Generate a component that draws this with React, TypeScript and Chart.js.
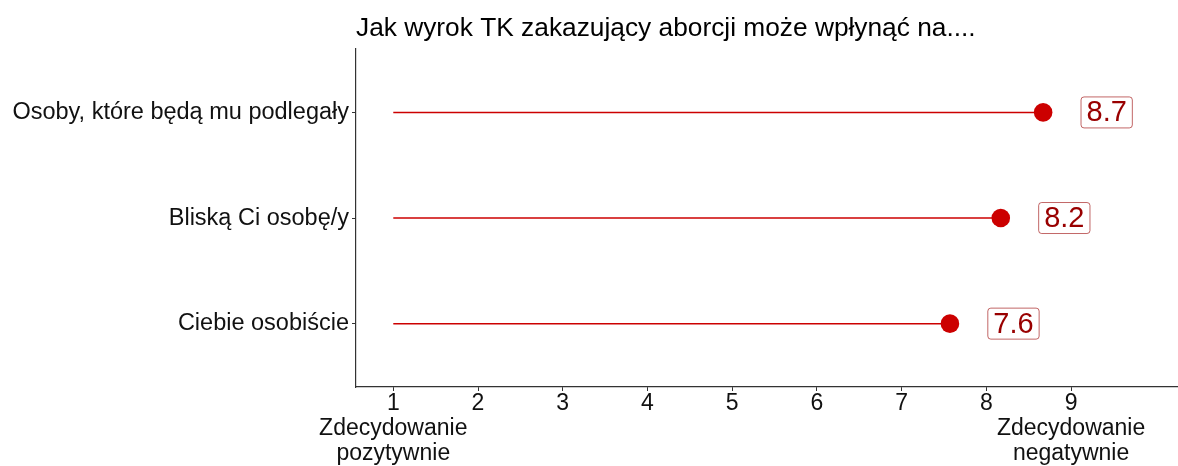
import React, { useEffect, useRef } from "react";
import { Chart, registerables } from "chart.js";

Chart.register(...registerables);

const TITLE = "Jak wyrok TK zakazujący aborcji może wpłynąć na....";
// listed bottom to top
const CATEGORIES = ["Ciebie osobiście", "Bliską Ci osobę/y", "Osoby, które będą mu podlegały"];
const VALUES = [7.57, 8.17, 8.67];
const START_VALUE = 1;
const X_TICKS = [1, 2, 3, 4, 5, 6, 7, 8, 9];
const X_TICK_LABELS: (string | string[])[] = [
  ["1", "Zdecydowanie", "pozytywnie"],
  "2",
  "3",
  "4",
  "5",
  "6",
  "7",
  "8",
  ["9", "Zdecydowanie", "negatywnie"],
];
const LABEL_NUDGE = 0.75;
const X_MIN = 0.56;
const X_MAX = 10.25;
const Y_MIN = 0.4;
const Y_MAX = 3.6;

const FONT = "'Liberation Sans', Arial, sans-serif";
const RED = "#cc0000";
const DARK_RED = "#990000";

const valueLabels = {
  id: "valueLabels",
  afterDatasetsDraw(chart: any) {
    const { ctx, scales } = chart;
    ctx.save();
    ctx.font = `29px ${FONT}`;
    ctx.textAlign = "center";
    ctx.textBaseline = "middle";
    VALUES.forEach((v, i) => {
      const cx = scales.x.getPixelForValue(v + LABEL_NUDGE);
      const cy = scales.y.getPixelForValue(i + 1);
      const text = v.toFixed(1);
      const w = ctx.measureText(text).width + 11;
      const h = 31;
      const x0 = cx - w / 2;
      const y0 = cy - h / 2;
      ctx.beginPath();
      if (ctx.roundRect) ctx.roundRect(x0, y0, w, h, 3);
      else ctx.rect(x0, y0, w, h);
      ctx.fillStyle = "#ffffff";
      ctx.fill();
      ctx.lineWidth = 1;
      ctx.strokeStyle = "rgba(153,0,0,0.6)";
      ctx.stroke();
      ctx.fillStyle = DARK_RED;
      ctx.fillText(text, cx, cy + 1);
    });
    ctx.restore();
  },
};

export default function App() {
  const ref = useRef<HTMLCanvasElement | null>(null);

  useEffect(() => {
    if (!ref.current) return;
    const datasets = VALUES.map((v, i) => ({
      label: CATEGORIES[i],
      data: [
        { x: START_VALUE, y: i + 1 },
        { x: v, y: i + 1 },
      ],
      showLine: true,
      borderColor: RED,
      borderWidth: 1.5,
      pointRadius: [0, 9.3],
      pointHoverRadius: [0, 9.3],
      pointBackgroundColor: RED,
      pointBorderWidth: 0,
      clip: false,
    }));

    const chart = new Chart(ref.current, {
      type: "scatter",
      data: { datasets },
      plugins: [valueLabels],
      options: {
        animation: false,
        responsive: true,
        maintainAspectRatio: false,
        layout: { autoPadding: false, padding: { left: 0, right: 1, top: 0, bottom: 0 } },
        plugins: {
          legend: { display: false },
          tooltip: { enabled: false },
          title: {
            display: true,
            text: TITLE,
            align: "start",
            fullSize: false,
            color: "#000000",
            font: { family: FONT, size: 26.3, weight: "normal", lineHeight: 1.2 },
            padding: { top: 12.5, bottom: 5 },
          },
        },
        scales: {
          x: {
            type: "linear",
            min: X_MIN,
            max: X_MAX,
            afterBuildTicks: (scale: any) => {
              scale.ticks = X_TICKS.map((value) => ({ value }));
            },
            afterFit: (scale: any) => {
              scale.paddingRight = 0;
              scale.paddingLeft = 0;
            },
            ticks: {
              color: "#111111",
              font: { family: FONT, size: 23, lineHeight: "25px" },
              padding: 0,
              maxRotation: 0,
              autoSkip: false,
              callback: (value: any) => {
                const idx = X_TICKS.indexOf(Number(value));
                return idx >= 0 ? X_TICK_LABELS[idx] : "";
              },
            },
            grid: {
              drawOnChartArea: false,
              drawTicks: true,
              tickLength: 4,
              color: "#333333",
            },
            border: { display: true, color: "#333333", width: 1.2 },
          },
          y: {
            type: "linear",
            min: Y_MIN,
            max: Y_MAX,
            afterBuildTicks: (scale: any) => {
              scale.ticks = CATEGORIES.map((_, i) => ({ value: i + 1 }));
            },
            afterFit: (scale: any) => {
              scale.width = 356;
              scale.paddingTop = 0;
              scale.paddingBottom = 0;
            },
            ticks: {
              color: "#111111",
              font: { family: FONT, size: 23.5 },
              padding: 3,
              autoSkip: false,
              callback: (value: any) => CATEGORIES[Number(value) - 1] ?? "",
            },
            grid: {
              drawOnChartArea: false,
              drawTicks: true,
              tickLength: 4,
              color: "#333333",
            },
            border: { display: true, color: "#333333", width: 1.2 },
          },
        },
      },
    } as any);
    return () => chart.destroy();
  }, []);

  return (
    <div style={{ position: "fixed", left: 0, top: 0, width: 1178, height: 466, background: "#ffffff" }}>
      <canvas ref={ref} />
    </div>
  );
}
